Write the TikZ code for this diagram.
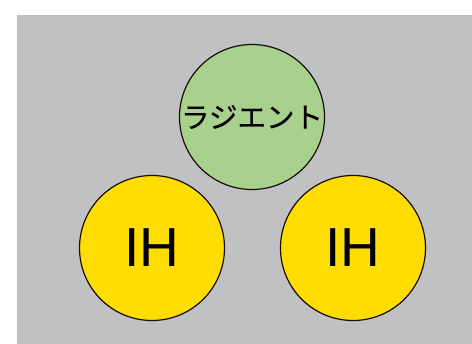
\documentclass[tikz,border=0pt]{standalone}
\usepackage{fontspec}
\setmainfont{Liberation Sans}
\newfontfamily\jpfont[FakeBold=0.5]{Noto Sans CJK JP}
\usepackage{tikz}
\definecolor{bggray}{HTML}{C0C1C3}
\definecolor{leafgreen}{HTML}{A9D18E}
\definecolor{ihyellow}{HTML}{FFDD00}
\definecolor{rimdark}{HTML}{1A0A0A}
\begin{document}
\begin{tikzpicture}[x=1pt,y=-1pt, disc/.style={circle,draw=rimdark,line width=1.2pt,minimum size=145pt,inner sep=0pt}]
\useasboundingbox (0,0) rectangle (472,344);
\fill[bggray] (17,15) rectangle (472,344);
\node[disc,fill=leafgreen] (rad) at (252,117) {\jpfont\fontsize{28.5}{30}\selectfont ラジエント};
\node[disc,fill=ihyellow] (ihl) at (152,248) {\fontsize{55}{60}\selectfont IH};
\node[disc,fill=ihyellow] (ihr) at (353,248) {\fontsize{55}{60}\selectfont IH};
\end{tikzpicture}
\end{document}
